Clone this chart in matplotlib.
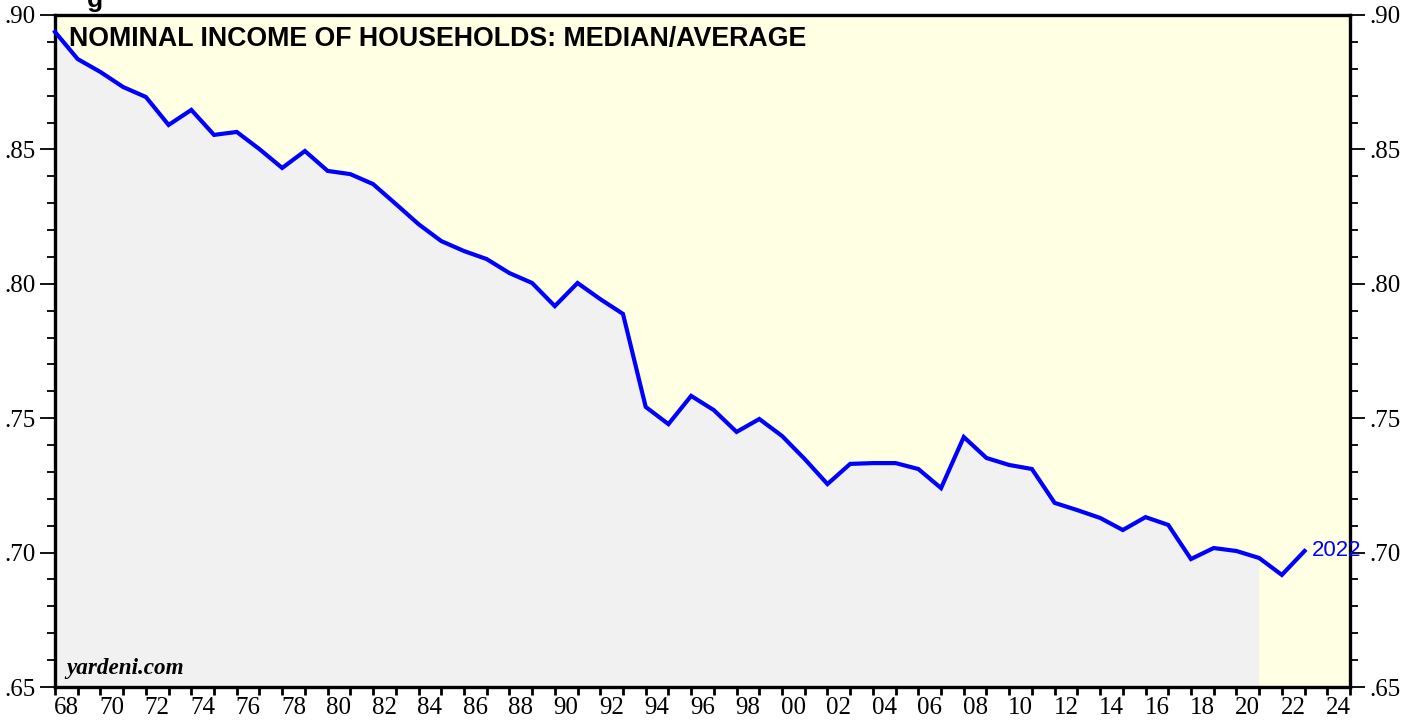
import numpy as np
import matplotlib
matplotlib.use("Agg")
import matplotlib.pyplot as plt
from matplotlib.ticker import MultipleLocator, FixedLocator, FuncFormatter

# median / average household income ratio, 1967-2022
years = np.arange(1967, 2023)
ratio = [0.8937, 0.8836, 0.8788, 0.8732, 0.8695, 0.8591, 0.8647, 0.8554,
         0.8565, 0.8501, 0.8431, 0.8494, 0.8420, 0.8408, 0.8371, 0.8297,
         0.8222, 0.8159, 0.8122, 0.8092, 0.8040, 0.8003, 0.7917, 0.8003,
         0.7943, 0.7888, 0.7542, 0.7478, 0.7583, 0.7530, 0.7449, 0.7497,
         0.7434, 0.7348, 0.7255, 0.7330, 0.7333, 0.7333, 0.7311, 0.7240,
         0.7430, 0.7352, 0.7326, 0.7311, 0.7185, 0.7158, 0.7129, 0.7084,
         0.7132, 0.7103, 0.6976, 0.7017, 0.7006, 0.6980, 0.6917, 0.7006]
shade_end = 2020  # grey area stops after this year
year_labels = list(range(1968, 2025, 2))

ratio = np.array(ratio)
xpos = years + 1.0  # plotted at year end

fig = plt.figure(figsize=(14.16, 7.21), dpi=100)
ax = fig.add_axes([55 / 1416, 34 / 721, 1295 / 1416, 672 / 721])
ax.set_facecolor("#ffffe3")

m = years <= shade_end
ax.fill_between(xpos[m], ratio[m], 0.6, color="#f1f1f1", lw=0, zorder=1)
ax.plot(xpos, ratio, color="#0000ff", lw=3, zorder=3, clip_on=False,
        solid_joinstyle="miter")
ax.text(xpos[-1] + 0.3, ratio[-1], str(years[-1]), color="#0000ff",
        fontsize=16, family="Liberation Sans", va="center", ha="left")

ax.set_xlim(1968, 2025)
ax.set_ylim(0.65, 0.90)

for s in ax.spines.values():
    s.set_linewidth(2.4)

# year ticks, labels centred between ticks
ax.xaxis.set_major_locator(MultipleLocator(1))
ax.xaxis.set_major_formatter(FuncFormatter(lambda v, p: ""))
ax.xaxis.set_minor_locator(FixedLocator([y + 0.5 for y in year_labels]))
ax.xaxis.set_minor_formatter(FuncFormatter(lambda v, p: "%02d" % (int(v) % 100)))
ax.tick_params(axis="x", which="major", direction="out", length=6, width=2)
ax.tick_params(axis="x", which="minor", length=0, pad=7, labelsize=18,
               labelfontfamily="Liberation Serif")

ax.yaxis.set_major_locator(MultipleLocator(0.05))
ax.yaxis.set_minor_locator(MultipleLocator(0.01))
ax.yaxis.set_major_formatter(FuncFormatter(lambda v, p: ("%.2f" % v)[1:]))
ax.tick_params(axis="y", which="major", direction="out", length=11, width=1.3,
               left=True, right=True, labelleft=True, labelright=True, pad=3,
               labelsize=18, labelfontfamily="Liberation Serif")
ax.tick_params(axis="y", which="minor", direction="out", length=6, width=1.3,
               left=True, right=True)

ax.text(0.011, 0.983, "NOMINAL INCOME OF HOUSEHOLDS: MEDIAN/AVERAGE",
        transform=ax.transAxes, fontsize=19.3, fontweight="bold",
        family="Liberation Sans", va="top", ha="left")
ax.text(0.009, 0.012, "yardeni.com", transform=ax.transAxes, fontsize=16.7,
        fontweight="bold", style="italic", family="Liberation Serif",
        va="bottom", ha="left")

# cut-off text at the very top, as in the original
fig.text(95 / 1416, 1.0, "g", fontsize=19, fontweight="bold",
         family="Liberation Sans", va="center", ha="center")

fig.savefig("out.png", dpi=100)
